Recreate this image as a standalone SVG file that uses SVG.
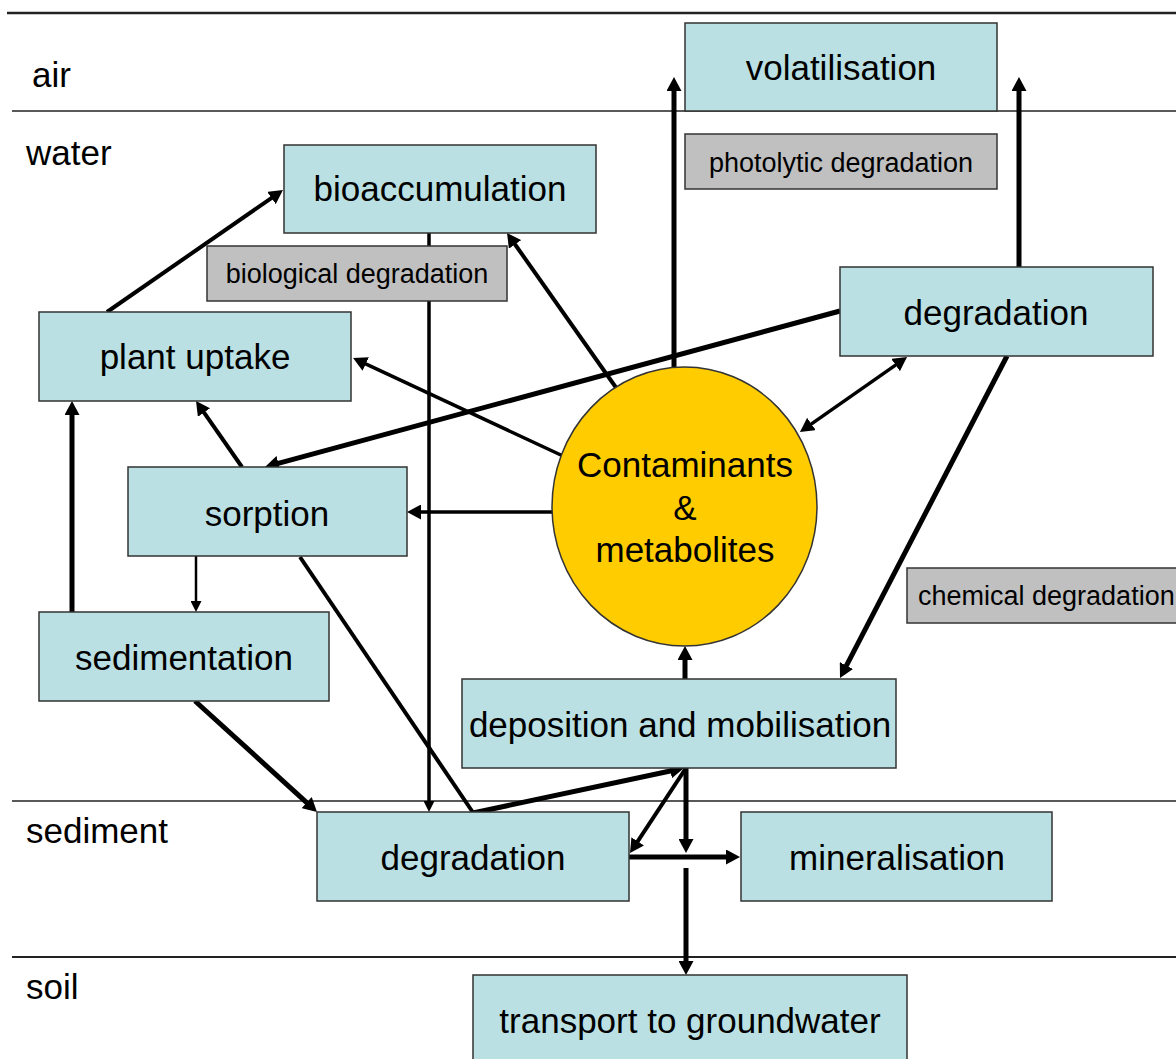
<svg xmlns="http://www.w3.org/2000/svg" width="1176" height="1059" viewBox="0 0 1176 1059">
<style>
  .zone { stroke: #222; fill: none; }
  .lbl { font-family: "Liberation Sans", Arial, sans-serif; font-size: 35px; fill: #000; }
  .box { fill: #BAE0E3; stroke: #333; stroke-width: 1.5; }
  .gbox { fill: #C0C0C0; stroke: #333; stroke-width: 1.5; }
  .t { font-family: "Liberation Sans", Arial, sans-serif; font-size: 35px; fill: #000; text-anchor: middle; }
  .gt { font-family: "Liberation Sans", Arial, sans-serif; font-size: 27px; fill: #000; text-anchor: middle; }
  .c { stroke: #000; fill: none; stroke-linecap: butt; }
  .w5 { stroke-width: 5; }
  .w4 { stroke-width: 4; }
  .w3 { stroke-width: 3.5; }
  .ah { marker-end: url(#big); }
  .as { marker-end: url(#small); }
</style>
<defs>
  <marker id="big" markerUnits="userSpaceOnUse" markerWidth="14" markerHeight="15" refX="6" refY="7.5" orient="auto-start-reverse">
    <path d="M0,0 L14,7.5 L0,15 z" fill="#000"/>
  </marker>
  <marker id="small" markerUnits="userSpaceOnUse" markerWidth="11" markerHeight="11" refX="5" refY="5.5" orient="auto">
    <path d="M0,0 L11,5.5 L0,11 z" fill="#000"/>
  </marker>
</defs>
<rect width="1176" height="1059" fill="#fff"/>

<g id="zones">
  <line class="zone" x1="7" y1="13" x2="1176" y2="13" stroke-width="2.5" stroke="#000"/>
  <line class="zone" x1="12" y1="111" x2="1176" y2="111" stroke-width="1.5"/>
  <line class="zone" x1="12" y1="801" x2="1176" y2="801" stroke-width="1.5"/>
  <line class="zone" x1="12" y1="957" x2="1176" y2="957" stroke-width="2" stroke="#444"/>
  <text class="lbl" x="32" y="87">air</text>
  <text class="lbl" x="26" y="165">water</text>
  <text class="lbl" x="26" y="843">sediment</text>
  <text class="lbl" x="26" y="999">soil</text>
</g>

<g id="connectors">
  <line class="c w5 ah" x1="674" y1="368" x2="674" y2="85"/>
  <line class="c w5 ah" x1="1019" y1="267" x2="1019" y2="85"/>
  <line class="c w5 ah" x1="840" y1="311" x2="272.7" y2="464.9"/>
  <line class="c w3" x1="806.5" y1="427.4" x2="900.5" y2="361.6" marker-start="url(#big)" marker-end="url(#big)"/>
  <line class="c w5 ah" x1="1007" y1="356" x2="843.7" y2="670.9"/>
  <line class="c w4 ah" x1="617" y1="389" x2="511.6" y2="239.5"/>
  <line class="c w3 ah" x1="563" y1="456" x2="360.3" y2="361.4"/>
  <line class="c w3 ah" x1="552" y1="512" x2="415" y2="512"/>
  <line class="c w3 as" x1="429" y1="233" x2="429" y2="806"/>
  <line class="c w4 ah" x1="107" y1="312" x2="276.4" y2="194.6"/>
  <line class="c w4 ah" x1="242" y1="467" x2="200.6" y2="407.6"/>
  <line class="c w5 ah" x1="72" y1="612" x2="72" y2="409"/>
  <line class="c as" stroke-width="2.5" x1="196" y1="556" x2="196" y2="606"/>
  <line class="c w5 ah" x1="195" y1="701" x2="311.1" y2="806.6"/>
  <line class="c w4" x1="300" y1="557" x2="474" y2="814"/>
  <line class="c w5 ah" x1="473" y1="813" x2="676.2" y2="769.7"/>
  <line class="c w5 ah" x1="686" y1="768" x2="686" y2="845"/>
  <line class="c w4 ah" x1="686" y1="768" x2="634.4" y2="846.3"/>
  <line class="c w5 ah" x1="629" y1="857" x2="732" y2="857"/>
  <line class="c w5 ah" x1="686" y1="868" x2="686" y2="967"/>
  <line class="c w5 ah" x1="685" y1="679" x2="685" y2="654"/>
</g>

<g id="volatilisation">
  <rect class="box" x="685" y="23" width="312" height="88"/>
  <text class="t" x="841" y="80">volatilisation</text>
</g>
<g id="photolytic-degradation">
  <rect class="gbox" x="685" y="134" width="312" height="55"/>
  <text class="gt" x="841" y="172">photolytic degradation</text>
</g>
<g id="bioaccumulation">
  <rect class="box" x="284" y="145" width="312" height="88"/>
  <text class="t" x="440" y="201">bioaccumulation</text>
</g>
<g id="biological-degradation">
  <rect class="gbox" x="207" y="246" width="300" height="55"/>
  <text class="gt" x="357" y="283">biological degradation</text>
</g>
<g id="degradation-water">
  <rect class="box" x="840" y="267" width="313" height="89"/>
  <text class="t" x="996" y="325">degradation</text>
</g>
<g id="plant-uptake">
  <rect class="box" x="39" y="312" width="312" height="89"/>
  <text class="t" x="195" y="369">plant uptake</text>
</g>
<g id="contaminants">
  <ellipse cx="684.5" cy="506.5" rx="132.5" ry="139.5" fill="#FFCC00" stroke="#333" stroke-width="1.5"/>
  <text class="t" x="685" y="477">Contaminants</text>
  <text class="t" x="685" y="520">&amp;</text>
  <text class="t" x="685" y="562">metabolites</text>
</g>
<g id="sorption">
  <rect class="box" x="128" y="467" width="279" height="89"/>
  <text class="t" x="267" y="526">sorption</text>
</g>
<g id="sedimentation">
  <rect class="box" x="39" y="612" width="290" height="89"/>
  <text class="t" x="184" y="670">sedimentation</text>
</g>
<g id="chemical-degradation">
  <rect class="gbox" x="907" y="568" width="280" height="55"/>
  <text class="gt" x="918" y="605" style="text-anchor:start">chemical degradation</text>
</g>
<g id="deposition-mobilisation">
  <rect class="box" x="462" y="679" width="434" height="89"/>
  <text class="t" x="680" y="737">deposition and mobilisation</text>
</g>
<g id="degradation-sediment">
  <rect class="box" x="317" y="812" width="312" height="89"/>
  <text class="t" x="473" y="870">degradation</text>
</g>
<g id="mineralisation">
  <rect class="box" x="741" y="812" width="311" height="89"/>
  <text class="t" x="897" y="870">mineralisation</text>
</g>
<g id="transport-groundwater">
  <rect class="box" x="473" y="975" width="434" height="100"/>
  <text class="t" x="690" y="1033">transport to groundwater</text>
</g>
</svg>
